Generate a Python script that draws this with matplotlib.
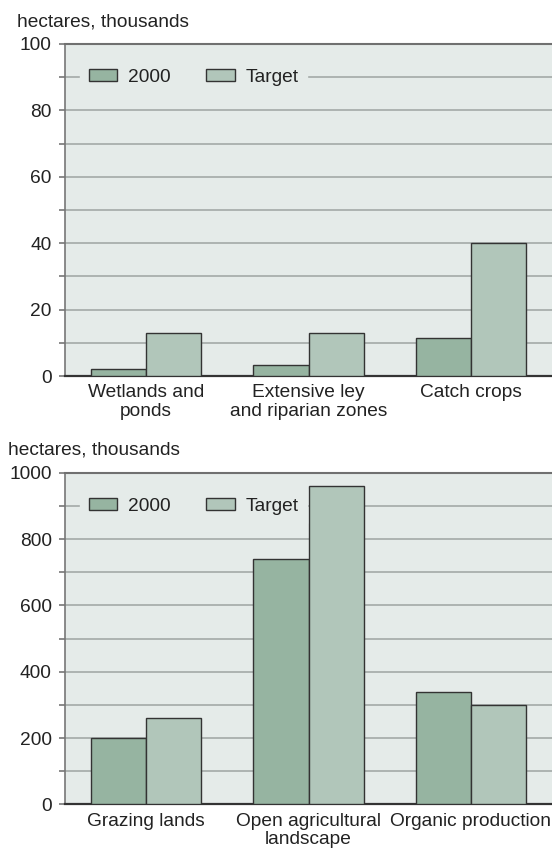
import matplotlib.pyplot as plt
import numpy as np

plt.rcParams['font.family'] = ['Liberation Sans', 'DejaVu Sans']

# data
top_categories = ["Wetlands and\nponds", "Extensive ley\nand riparian zones", "Catch crops"]
top_2000 = [2, 3.2, 11.6]
top_target = [13, 13, 40]

bottom_categories = ["Grazing lands", "Open agricultural\nlandscape", "Organic production"]
bottom_2000 = [200, 740, 340]
bottom_target = [260, 960, 300]

series_labels = ["2000", "Target"]
ylabel = "hectares, thousands"

BG = "#e5ebe9"
C2000 = "#96b4a1"
CTARGET = "#b1c6ba"
TEXT = "#222222"
FS = 13.8


def draw_panel(ax, cats, v2000, vtarget, ymax, major, legend_y):
    x = np.arange(len(cats))
    width = 0.34
    ax.set_facecolor(BG)
    ax.bar(x - width / 2, v2000, width, color=C2000, edgecolor="#333333", linewidth=1.0,
           label=series_labels[0], zorder=3)
    ax.bar(x + width / 2, vtarget, width, color=CTARGET, edgecolor="#333333", linewidth=1.0,
           label=series_labels[1], zorder=3)
    ax.set_xlim(-0.5, 2.5)
    ax.set_ylim(0, ymax)
    ax.set_yticks(np.arange(0, ymax + 1, major))
    ax.set_yticks(np.arange(major / 2, ymax, major), minor=True)
    ax.yaxis.grid(True, which="both", color="#a9afad", linewidth=1.3, zorder=0)
    ax.set_axisbelow(True)
    ax.set_xticks(x)
    ax.set_xticklabels(cats, fontsize=FS, color=TEXT, linespacing=1.12)
    ax.tick_params(axis="x", length=0, pad=6)
    ax.tick_params(axis="y", which="both", length=4.5, width=1.2, color="#777777",
                   labelsize=FS, labelcolor=TEXT, pad=5)
    ax.spines["right"].set_visible(False)
    ax.spines["top"].set_color("#707070")
    ax.spines["top"].set_linewidth(1.5)
    ax.spines["left"].set_color("#777777")
    ax.spines["left"].set_linewidth(1.2)
    ax.spines["bottom"].set_color("#333333")
    ax.spines["bottom"].set_linewidth(1.6)
    leg = ax.legend(loc="center left", bbox_to_anchor=(0.031, legend_y),
                    bbox_transform=ax.get_yaxis_transform(), borderaxespad=0,
                    ncol=2, fontsize=FS, frameon=True, facecolor=BG, edgecolor=BG,
                    framealpha=1, fancybox=False, handlelength=1.5, handleheight=0.65,
                    handletextpad=0.55, columnspacing=1.85, borderpad=0.45)
    for t in leg.get_texts():
        t.set_color(TEXT)
    leg.set_zorder(4)


fig = plt.figure(figsize=(5.52, 8.49), dpi=100)
ax1 = fig.add_axes([0.1178, 0.5571, 0.8822, 0.3911])
ax2 = fig.add_axes([0.1178, 0.0527, 0.8822, 0.3902])

draw_panel(ax1, top_categories, top_2000, top_target, 100, 20, 90)
draw_panel(ax2, bottom_categories, bottom_2000, bottom_target, 1000, 200, 900)

fig.text(17 / 552, 1 - 22 / 849, ylabel, fontsize=FS, color=TEXT, ha="left", va="center")
fig.text(8 / 552, 1 - 450 / 849, ylabel, fontsize=FS, color=TEXT, ha="left", va="center")

fig.savefig("out.png", dpi=100)
